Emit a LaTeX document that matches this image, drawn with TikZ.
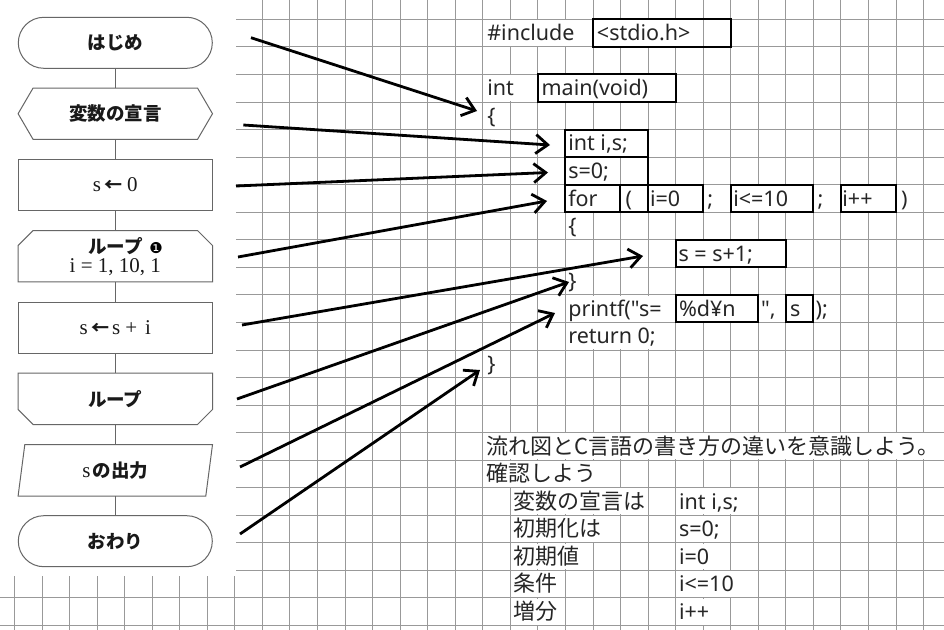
\documentclass[tikz,border=0pt]{standalone}
\usepackage{fontspec}
\usetikzlibrary{arrows.meta}
\newfontfamily\jpfont{Noto Sans CJK JP}
\newfontfamily\codefont{Noto Sans}
\newfontfamily\seriffont{Liberation Serif}
\newfontfamily\symfont{DejaVu Sans}
\newcommand\fcjk{\jpfont\bfseries\fontsize{18.5}{20}\selectfont}
\newcommand\fserif{\seriffont\fontsize{21}{21}\selectfont}
\newcommand\larrow{{\jpfont\bfseries\fontsize{18}{18}\selectfont ←}}
\tikzset{
  gridline/.style={draw=black!40, line width=0.8pt},
  fshape/.style={draw=black!60, line width=1pt},
  fnode/.style={minimum width=194pt, minimum height=51pt, inner sep=0pt, text=black!90},
  fconn/.style={draw=black!60, line width=1pt},
  codebox/.style={draw=black, line width=2pt},
  code/.style={anchor=base west, inner sep=0pt, font=\codefont\fontsize{21.5}{24}\selectfont, text=black!85},
  jtext/.style={anchor=base west, inner sep=0pt, font=\jpfont\fontsize{22}{24}\selectfont, text=black!85},
  pointer/.style={draw=black, line width=2.8pt, -{Straight Barb[length=12pt,width=19pt]}},
}
\begin{document}
\begin{tikzpicture}[x=1pt,y=-1pt]
\useasboundingbox (0,0) rectangle (944,629);
\clip (0,0) rectangle (944,629);
\fill[white] (0,0) rectangle (944,629);
\begin{scope}[shift={(262.3,19.3)}, x=27.55pt, y=-27.55pt]
  % grid
  \foreach \n in {-9,...,24} \draw[gridline] (\n,-0.8) -- (\n,22.2);
  \foreach \m in {0,...,22} \draw[gridline] (-9.6,\m) -- (24.8,\m);
  % cells where overflowing text hides the vertical grid lines
  \foreach \r/\a/\b in {0/8/12, 0/12/16, 2/8/10, 2/10/15, 4/11/14, 5/11/13,
      6/11/13, 6/14/16, 6/17/20, 6/21/23, 8/15/19, 10/11/15, 10/15/18, 11/11/15,
      15/8/26, 16/8/13, 17/9/14, 17/15/18, 18/9/13, 18/15/17, 19/9/12, 19/15/17,
      20/9/11, 20/15/18, 21/9/11, 21/15/17}
    \fill[white] ({\a+0.03},{\r+0.03}) rectangle ({\b-0.03},{\r+0.97});
  % boxes
  \foreach \r/\a/\b in {0/12/17, 2/10/15, 4/11/14, 5/11/14, 6/11/13, 6/13/14,
      6/14/16, 6/17/20, 6/21/23, 8/15/19, 10/15/18, 10/19/20}
    \draw[codebox] (\a,\r) rectangle (\b,{\r+1});
  % code text
  \node[code] (c1) at (8.16,0.78) {\#include};
  \node[code] (c2) at (12.14,0.78) {<stdio.h>};
  \node[code] (c3) at (8.16,2.78) {int};
  \node[code] (c4) at (10.13,2.78) {main(void)};
  \node[code] (c5) at (8.16,3.78) {\{};
  \node[code] (c6) at (11.1,4.78) {int i,s;};
  \node[code] (c7) at (11.1,5.78) {s=0;};
  \node[code] (c8) at (11.1,6.78) {for};
  \node[code] (c9) at (13.18,6.78) {(};
  \node[code] (c10) at (14.07,6.78) {i=0};
  \node[code] (c11) at (16.15,6.78) {;};
  \node[code] (c12) at (17.09,6.78) {i<=10};
  \node[code] (c13) at (20.15,6.78) {;};
  \node[code] (c14) at (21.05,6.78) {i++};
  \node[code] (c15) at (23.18,6.78) {)};
  \node[code] (c16) at (11.1,7.78) {\{};
  \node[code] (c17) at (15.1,8.78) {s = s+1;};
  \node[code] (c18) at (11.1,9.78) {\}};
  \node[code] (c19) at (11.1,10.78) {printf("s=};
  \node[code] (c20) at (15.12,10.78) {\%d¥n};
  \node[code] (c21) at (18.1,10.78) {",};
  \node[code] (c22) at (19.15,10.78) {s};
  \node[code] (c23) at (20.08,10.78) {);};
  \node[code] (c24) at (11.1,11.78) {return 0;};
  \node[code] (c25) at (8.16,12.78) {\}};
  % notes
  \node[jtext] (j1) at (8.14,15.78) {流れ図とC言語の書き方の違いを意識しよう。};
  \node[jtext] (j2) at (8.14,16.78) {確認しよう};
  \node[jtext] (j3) at (9.11,17.78) {変数の宣言は};
  \node[code] (j4) at (15.12,17.78) {int i,s;};
  \node[jtext] (j5) at (9.11,18.78) {初期化は};
  \node[code] (j6) at (15.12,18.78) {s=0;};
  \node[jtext] (j7) at (9.11,19.78) {初期値};
  \node[code] (j8) at (15.12,19.78) {i=0};
  \node[jtext] (j9) at (9.11,20.78) {条件};
  \node[code] (j10) at (15.12,20.78) {i<=10};
  \node[jtext] (j11) at (9.11,21.78) {増分};
  \node[code] (j12) at (15.12,21.78) {i++};
\end{scope}
% flowchart picture
\fill[white] (0,0) rectangle (236,576);
\node[fnode, fshape, rounded corners=25.5pt] (f1) at (115.3,42.8) {\fcjk はじめ};
\node[fnode] (f2) at (115.3,113.7) {\fcjk 変数の宣言};
\draw[fshape] (f2.west) -- ([xshift=15pt]f2.north west) -- ([xshift=-15pt]f2.north east)
  -- (f2.east) -- ([xshift=-15pt]f2.south east) -- ([xshift=15pt]f2.south west) -- cycle;
\node[fnode, fshape, font=\fserif] (f3) at (115.3,185) {s\hspace{3pt}\larrow\hspace{5pt}0};
\node[fnode, align=center, font=\fserif] (f4) at (115.3,256.2) {{\fcjk ループ}\\[-2pt]i = 1, 10, 1};
\draw[fshape] ([yshift=-15pt]f4.north west) -- ([xshift=15pt]f4.north west) -- ([xshift=-15pt]f4.north east)
  -- ([yshift=-15pt]f4.north east) -- (f4.south east) -- (f4.south west) -- cycle;
\node[inner sep=0pt, font=\symfont\fontsize{15}{15}\selectfont] (m1) at (156,248) {❶};
\node[fnode, fshape, font=\fserif] (f5) at (115.3,327.5) {s\hspace{3.5pt}\larrow\hspace{3pt}s\hspace{5pt}+\hspace{8pt}i};
\node[fnode] (f6) at (115.3,398.8) {\fcjk ループ};
\draw[fshape] (f6.north west) -- (f6.north east) -- ([yshift=15pt]f6.south east)
  -- ([xshift=-15pt]f6.south east) -- ([xshift=15pt]f6.south west) -- ([yshift=15pt]f6.south west) -- cycle;
\node[fnode] (f7) at (115.3,470.3) {{\fserif s}\hspace{2pt}{\fcjk の出力}};
\draw[fshape] ([xshift=6.7pt]f7.north west) -- (f7.north east) -- ([xshift=-6.7pt]f7.south east)
  -- (f7.south west) -- cycle;
\node[fnode, fshape, rounded corners=25.5pt] (f8) at (115.3,541.2) {\fcjk おわり};
\foreach \a/\b in {f1/f2, f2/f3, f3/f4, f4/f5, f5/f6, f6/f7, f7/f8}
  \draw[fconn] (\a.south) -- (\b.north);
% pointers
\coordinate (p1s) at (251,37.7);  \coordinate (p1e) at (477,111);
\coordinate (p2s) at (243.3,125); \coordinate (p2e) at (550,145);
\coordinate (p3s) at (236,186);   \coordinate (p3e) at (548,172.5);
\coordinate (p4s) at (238,257);   \coordinate (p4e) at (547,201);
\coordinate (p5s) at (242,325);   \coordinate (p5e) at (643,256);
\coordinate (p6s) at (237,399);   \coordinate (p6e) at (569,282);
\coordinate (p7s) at (240,467);   \coordinate (p7e) at (555,313);
\coordinate (p8s) at (240,534);   \coordinate (p8e) at (480,370);
\foreach \i in {1,...,8} \draw[pointer] (p\i s) -- (p\i e);
\end{tikzpicture}
\end{document}
